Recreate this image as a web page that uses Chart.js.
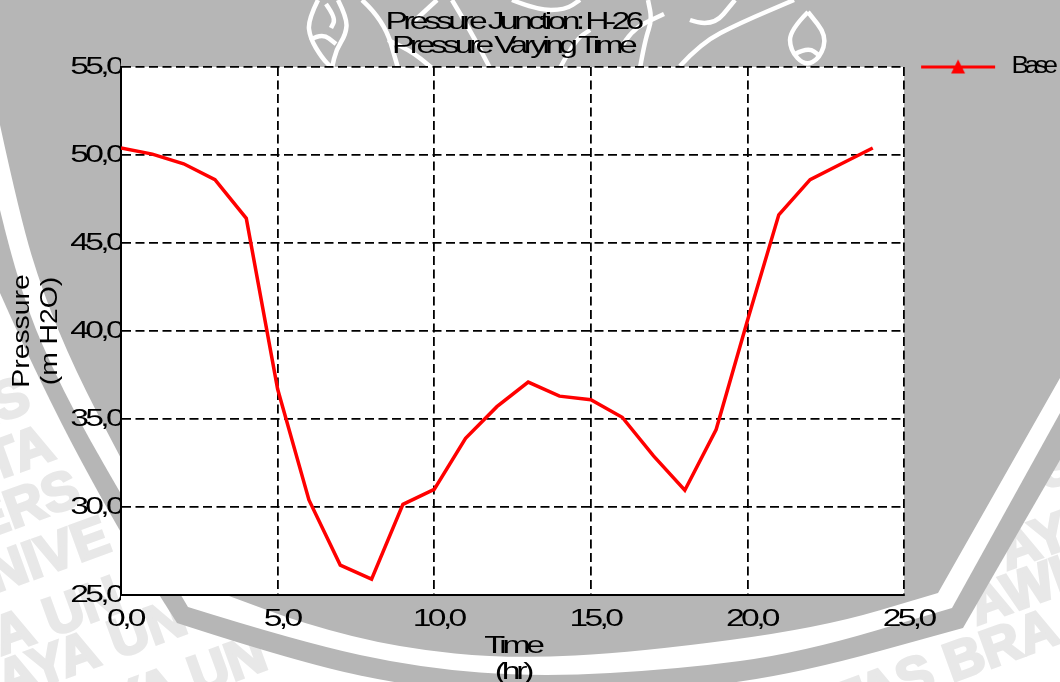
<!DOCTYPE html>
<html lang="en">
<head>
    <meta charset="UTF-8">
    <title>Pressure Junction: H-26</title>
    <script src="https://cdn.jsdelivr.net/npm/chart.js"></script>
    <style>
        html, body { margin: 0; padding: 0; background: #fff; }
        #chartBox { position: relative; width: 1060px; height: 682px; }
    </style>
</head>
<body>
    <div id="chartBox"><canvas id="pressureChart"></canvas></div>
    <script>
        // values
        const hours = [0, 1, 2, 3, 4, 5, 6, 7, 8, 9, 10, 11, 12, 13, 14, 15, 16, 17, 18, 19, 20, 21, 22, 23, 24];
        const pressure = [50.4, 50.05, 49.5, 48.6, 46.4, 36.7, 30.4, 26.7, 25.9, 30.15, 31.0, 33.9, 35.7, 37.1, 36.3, 36.1, 35.1, 32.9, 30.95, 34.4, 40.6, 46.6, 48.6, 49.5, 50.4];
        const titleLines = ['Pressure Junction: H-26', 'Pressure Varying Time'];
        const xTitleLines = ['Time', '(hr)'];
        const yTitleLines = ['Pressure', '(m H2O)'];
        const seriesName = 'Base';

        const FONT = '"Liberation Sans", Arial, sans-serif';
        const RED = '#ff0000';
        const GREY = '#b6b6b6';

        // faint text rows behind the shield: text, anchor x, anchor y, align
        const markRows = [
            ['VERSITAS', 33, 410, 'right'],
            ['UNIVERSITA', 57, 458, 'right'],
            ['UNIVERS', 83, 503, 'right'],
            ['UNIVE', 113, 550, 'right'],
            ['JAYA UN', 125, 610, 'right'],
            ['JAYA UN', 190, 632, 'right'],
            ['JAYA UN', 270, 668, 'right'],
            ['BRAWIJAYA UN', 330, 730, 'right'],
            ['ITAS BRA', 1062, 642, 'right'],
            ['AWIJAYA', 977, 625, 'left'],
            ['AYA', 1007, 570, 'left'],
            ['SITAS', 1045, 490, 'left']
        ];

        // edges of the background shield, left to right
        const innerLeft = [[0, 125], [20, 217], [43, 293], [75, 370], [120, 457], [165, 540], [190, 582]];
        const innerBottom = [[190, 582], [227, 595], [304, 624], [400, 648], [510, 659], [640, 652], [820, 628], [938, 593]];
        const whiteLeft = [[0, 210], [20, 293], [62, 390], [120, 493], [188, 607]];
        const whiteBottom = [[188, 607], [300, 642], [420, 668], [540, 677], [680, 669], [800, 653], [952, 608]];
        const outerLeft = [[0, 293], [43, 390], [120, 533], [177, 623]];
        const outerBottom = [[177, 623], [300, 663], [420, 688], [540, 697], [680, 690], [800, 673], [963, 628]];

        const emblemStrokes = [
            [[318, 0], [308, 20], [310, 38], [322, 58], [332, 68]],
            [[338, 0], [347, 18], [346, 34], [336, 50], [332, 68]],
            [[310, 40], [322, 33], [336, 44]],
            [[326, 4], [336, 18], [331, 28]],
            [[362, 0], [384, 20], [398, 68]],
            [[388, 40], [410, 50], [432, 68]],
            [[437, 0], [412, 23]],
            [[452, 0], [470, 30], [490, 68]],
            [[512, 0], [537, 10], [565, 10], [580, 0]],
            [[560, 68], [575, 40], [590, 30]],
            [[640, 68], [645, 40], [652, 20], [648, 0]],
            [[680, 66], [701, 43], [740, 23], [794, 0]],
            [[690, 20], [712, 28], [735, 0]],
            [[620, 50], [630, 30], [664, 14]]
        ];
        const budOutline = [[808, 12], [790, 30], [790, 50], [805, 66], [820, 58], [827, 36], [808, 12]];
        const budInner = [[795, 54], [808, 47], [820, 56]];

        function smooth(ctx, pts) {
            // quadratic through the midpoints, ends on the last point
            for (let i = 1; i < pts.length - 1; i++) {
                const mx = (pts[i][0] + pts[i + 1][0]) / 2;
                const my = (pts[i][1] + pts[i + 1][1]) / 2;
                ctx.quadraticCurveTo(pts[i][0], pts[i][1], mx, my);
            }
            ctx.lineTo(pts[pts.length - 1][0], pts[pts.length - 1][1]);
        }

        function fillShield(ctx, left, bottom, rightTop, color) {
            ctx.fillStyle = color;
            ctx.beginPath();
            ctx.moveTo(0, 0);
            ctx.lineTo(left[0][0], left[0][1]);
            smooth(ctx, left);
            smooth(ctx, bottom);
            ctx.lineTo(rightTop[0], rightTop[1]);
            ctx.lineTo(1060, 0);
            ctx.closePath();
            ctx.fill();
        }

        // the original text is squeezed: wide glyphs drawn over each other
        const rawFillText = CanvasRenderingContext2D.prototype.fillText;
        function textLook(text) {
            if (text === seriesName) return { sx: 1.15, gap: -4 };
            if (yTitleLines.includes(text)) return { sx: 1.18, gap: 0 };
            if (titleLines.includes(text)) return { sx: 1.4, gap: -3.3 };
            if (xTitleLines.includes(text)) return { sx: 1.4, gap: -3 };
            return { sx: 1.4, gap: -2.6 };
        }
        CanvasRenderingContext2D.prototype.fillText = function (text, x, y) {
            const look = textLook(text);
            this.save();
            this.letterSpacing = look.gap + 'px';
            this.translate(x, y);
            this.scale(look.sx, 1);
            rawFillText.call(this, text, 0, 0);
            this.restore();
        };

        const backdrop = {
            id: 'backdrop',
            beforeDraw(chart) {
                const ctx = chart.ctx;
                const area = chart.chartArea;
                chart.legend.top = area.top - 20;
                chart.legend.left = area.right + 4;

                ctx.save();
                ctx.fillStyle = '#ffffff';
                ctx.fillRect(0, 0, 1060, 682);

                ctx.fillStyle = '#e8e8e8';
                ctx.strokeStyle = '#e8e8e8';
                ctx.lineWidth = 3;
                ctx.font = 'bold 54px ' + FONT;
                ctx.textBaseline = 'alphabetic';
                markRows.forEach(([text, x, y, align]) => {
                    ctx.save();
                    ctx.textAlign = align;
                    ctx.translate(x, y);
                    ctx.rotate(-20 * Math.PI / 180);
                    rawFillText.call(ctx, text, 0, 0);
                    ctx.strokeText(text, 0, 0);
                    ctx.restore();
                });

                fillShield(ctx, outerLeft, outerBottom, [1060, 460], GREY);
                fillShield(ctx, whiteLeft, whiteBottom, [1060, 413], '#ffffff');
                fillShield(ctx, innerLeft, innerBottom, [1060, 378], GREY);

                // emblem lines at the top
                ctx.strokeStyle = '#ffffff';
                ctx.lineWidth = 4.5;
                ctx.lineJoin = 'round';
                emblemStrokes.concat([budOutline, budInner]).forEach(pts => {
                    ctx.beginPath();
                    ctx.moveTo(pts[0][0], pts[0][1]);
                    smooth(ctx, pts);
                    ctx.stroke();
                });

                ctx.fillStyle = '#ffffff';
                ctx.fillRect(area.left, area.top, area.width, area.height);
                ctx.restore();
            }
        };

        // legend key: line with a triangle on it
        const legendKey = document.createElement('canvas');
        legendKey.width = 76;
        legendKey.height = 20;
        const keyCtx = legendKey.getContext('2d');
        keyCtx.fillStyle = RED;
        keyCtx.fillRect(1, 9, 74, 3);
        keyCtx.beginPath();
        keyCtx.moveTo(38, 3);
        keyCtx.lineTo(45, 17);
        keyCtx.lineTo(31, 17);
        keyCtx.closePath();
        keyCtx.fill();

        const gridStyle = { color: '#000000', lineWidth: 1.8, drawTicks: false };
        const borderStyle = { display: true, color: '#000000', width: 2, dash: [9, 4.5] };
        const tickStyle = { color: '#000000', font: { family: FONT, size: 24 } };
        const commaLabel = v => v.toFixed(1).replace('.', ',');

        new Chart(document.getElementById('pressureChart'), {
            type: 'line',
            data: {
                datasets: [{
                    label: seriesName,
                    data: hours.map((h, i) => ({ x: h, y: pressure[i] })),
                    borderColor: RED,
                    backgroundColor: RED,
                    borderWidth: 3.5,
                    pointRadius: 0,
                    tension: 0,
                    fill: false
                }]
            },
            options: {
                responsive: true,
                maintainAspectRatio: false,
                animation: false,
                layout: { padding: { right: -10 } },
                plugins: {
                    title: {
                        display: true,
                        fullSize: false,
                        text: titleLines,
                        color: '#000000',
                        font: { family: FONT, size: 24, weight: 'normal', lineHeight: 1 },
                        padding: { top: 10, bottom: 9 }
                    },
                    legend: {
                        position: 'right',
                        align: 'start',
                        fullSize: false,
                        labels: {
                            usePointStyle: true,
                            pointStyle: legendKey,
                            pointStyleWidth: 84,
                            padding: 8,
                            color: '#000000',
                            font: { family: FONT, size: 23 }
                        }
                    },
                    tooltip: { enabled: false }
                },
                scales: {
                    x: {
                        type: 'linear',
                        min: 0,
                        max: 25,
                        grid: gridStyle,
                        border: borderStyle,
                        ticks: { ...tickStyle, stepSize: 5, padding: 10, labelOffset: 4, maxRotation: 0, autoSkip: false, callback: commaLabel },
                        title: {
                            display: true,
                            text: xTitleLines,
                            color: '#000000',
                            font: { family: FONT, size: 24, lineHeight: 1.08 },
                            padding: { top: 0, bottom: -3 }
                        },
                        afterFit(scale) { scale.height = 87; }
                    },
                    y: {
                        min: 25,
                        max: 55,
                        grid: gridStyle,
                        border: borderStyle,
                        ticks: { ...tickStyle, stepSize: 5, padding: 0, autoSkip: false, callback: commaLabel },
                        title: {
                            display: true,
                            text: yTitleLines,
                            color: '#000000',
                            font: { family: FONT, size: 24, lineHeight: 1.17 },
                            padding: { top: 8, bottom: 0 }
                        },
                        afterFit(scale) { scale.width = 121; }
                    }
                }
            },
            plugins: [backdrop]
        });
    </script>
</body>
</html>
